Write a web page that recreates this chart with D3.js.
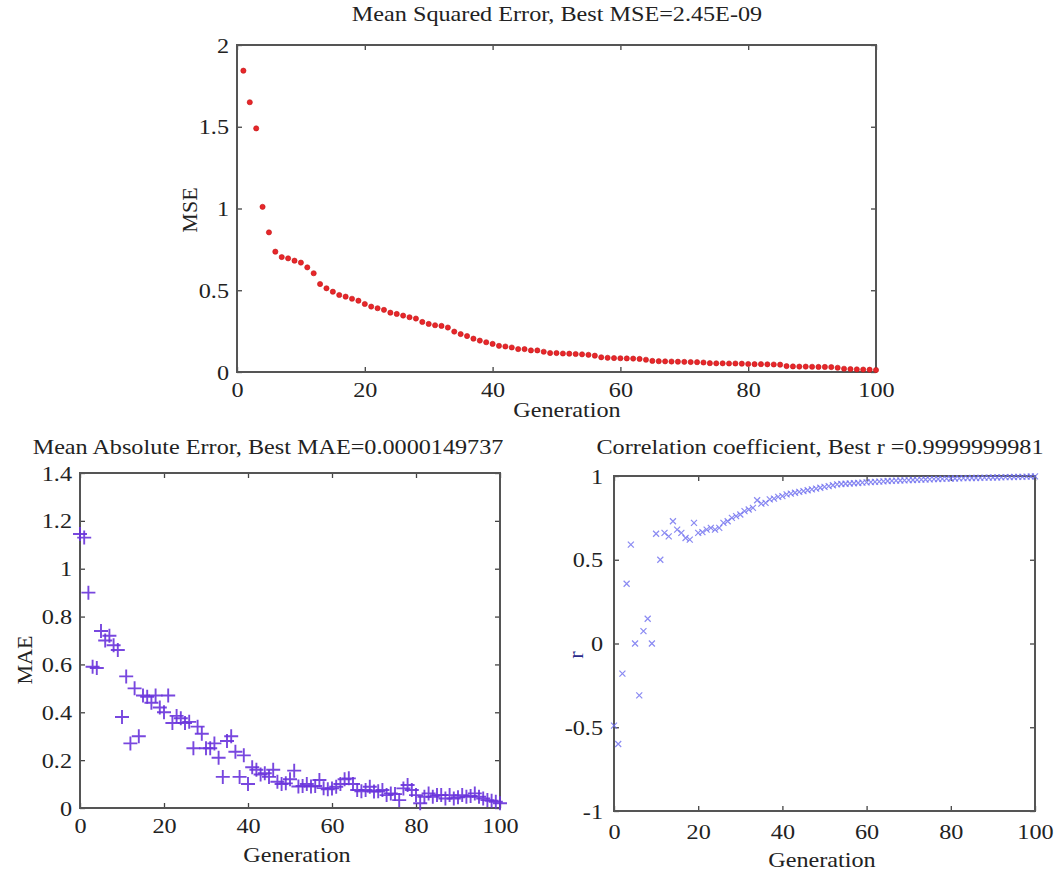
<!DOCTYPE html>
<html>
<head>
<meta charset="utf-8">
<script src="https://cdn.jsdelivr.net/npm/d3@7"></script>
<style>
  body { margin: 0; background: #fff; }
  svg text { font-family: "Liberation Serif", "DejaVu Serif", serif !important; fill: #222; }
</style>
</head>
<body>
<script>
// ---- data ----
var genTicks = [0, 20, 40, 60, 80, 100];
var mseTicks = [0, 0.5, 1, 1.5, 2];
var maeTicks = [0, 0.2, 0.4, 0.6, 0.8, 1, 1.2, 1.4];
var rTicks = [-1, -0.5, 0, 0.5, 1];

// MSE, generations 1..100
var mseValues = [
  1.843, 1.65, 1.49, 1.01, 0.854, 0.736, 0.703, 0.695, 0.681, 0.669,
  0.640, 0.604, 0.538, 0.512, 0.491, 0.471, 0.461, 0.448, 0.436, 0.416,
  0.400, 0.390, 0.380, 0.363, 0.355, 0.345, 0.335, 0.327, 0.306, 0.294,
  0.286, 0.282, 0.272, 0.247, 0.232, 0.220, 0.204, 0.192, 0.182, 0.172,
  0.160, 0.156, 0.150, 0.140, 0.140, 0.132, 0.132, 0.124, 0.116, 0.116,
  0.113, 0.112, 0.110, 0.108, 0.105, 0.100, 0.090, 0.087, 0.085, 0.084,
  0.083, 0.082, 0.080, 0.075, 0.068, 0.066, 0.065, 0.064, 0.063, 0.062,
  0.061, 0.060, 0.058, 0.054, 0.053, 0.053, 0.052, 0.052, 0.051, 0.049,
  0.048, 0.048, 0.047, 0.046, 0.045, 0.036, 0.034, 0.033, 0.033, 0.032,
  0.031, 0.031, 0.030, 0.026, 0.020, 0.018, 0.016, 0.015, 0.014, 0.012
];

// MAE, generations 0..100
var maeValues = [
  1.145, 1.13, 0.90, 0.59, 0.585, 0.74, 0.70, 0.72, 0.68, 0.66,
  0.38, 0.55, 0.27, 0.50, 0.30, 0.47, 0.465, 0.44, 0.47, 0.42,
  0.40, 0.47, 0.355, 0.385, 0.375, 0.355, 0.36, 0.25, 0.34, 0.31,
  0.25, 0.25, 0.27, 0.21, 0.13, 0.28, 0.30, 0.235, 0.13, 0.22,
  0.10, 0.17, 0.16, 0.14, 0.145, 0.13, 0.16, 0.11, 0.10, 0.103,
  0.12, 0.156, 0.09, 0.092, 0.10, 0.09, 0.092, 0.117, 0.083, 0.078,
  0.082, 0.089, 0.10, 0.12, 0.124, 0.10, 0.075, 0.07, 0.075, 0.089,
  0.069, 0.07, 0.075, 0.054, 0.061, 0.058, 0.033, 0.082, 0.096, 0.075,
  0.054, 0.02, 0.047, 0.061, 0.047, 0.054, 0.054, 0.04, 0.054, 0.04,
  0.045, 0.054, 0.047, 0.05, 0.061, 0.047, 0.04, 0.033, 0.03, 0.026,
  0.02
];

// correlation coefficient r, generations 0..100
var rValues = [
  -0.49, -0.60, -0.18, 0.357, 0.59, 0.0, -0.31, 0.074, 0.148, 0.0,
  0.655, 0.50, 0.66, 0.64, 0.73, 0.68, 0.66, 0.63, 0.62, 0.72,
  0.66, 0.665, 0.68, 0.69, 0.68, 0.69, 0.72, 0.73, 0.75, 0.76,
  0.77, 0.79, 0.80, 0.81, 0.855, 0.835, 0.84, 0.86, 0.865, 0.875,
  0.88, 0.89, 0.895, 0.90, 0.905, 0.91, 0.915, 0.92, 0.925, 0.93,
  0.935, 0.94, 0.945, 0.95, 0.952, 0.954, 0.955, 0.957, 0.958, 0.96,
  0.962, 0.963, 0.965, 0.966, 0.968, 0.97, 0.971, 0.972, 0.973, 0.974,
  0.975, 0.976, 0.977, 0.978, 0.979, 0.98, 0.981, 0.982, 0.983, 0.984,
  0.985, 0.985, 0.986, 0.987, 0.987, 0.988, 0.988, 0.989, 0.99, 0.99,
  0.991, 0.991, 0.992, 0.993, 0.993, 0.994, 0.995, 0.995, 0.996, 0.997,
  0.998
];

var width = 1058;
var height = 874;
var svg = d3.select('body').append('svg')
  .attr('width', width)
  .attr('height', height)
  .attr('font-family', '"Liberation Serif", serif');

svg.append('rect').attr('width', width).attr('height', height).attr('fill', '#fff');

var FS = 22;
var SX = 1.1; // lettering in the source is a bit wide

function wideText(x, y, str) {
  return svg.append('g').attr('transform', 'translate(' + x + ',' + y + ') scale(' + SX + ',1)')
    .append('text').attr('text-anchor', 'middle').attr('font-size', FS)
    .attr('font-family', '"Liberation Serif", serif').text(str);
}

function panel(p) {
  var x = d3.scaleLinear().domain([0, 100]).range([p.left, p.right]);
  var y = d3.scaleLinear().domain(p.yDomain).range([p.bottom, p.top]);
  var g = svg.append('g');
  var fmt = function(d) { return String(d); };

  var axes = [
    d3.axisBottom(x).tickValues(genTicks).tickSizeInner(-5).tickSizeOuter(0).tickPadding(p.xPad).tickFormat(fmt),
    d3.axisTop(x).tickValues(genTicks).tickSizeInner(-5).tickSizeOuter(0).tickFormat(''),
    d3.axisLeft(y).tickValues(p.yTicks).tickSizeInner(-5).tickSizeOuter(0).tickPadding(p.yPad).tickFormat(fmt),
    d3.axisRight(y).tickValues(p.yTicks).tickSizeInner(-5).tickSizeOuter(0).tickFormat('')
  ];
  var shifts = ['0,' + p.bottom, '0,' + p.top, p.left + ',0', p.right + ',0'];
  axes.forEach(function(ax, i) {
    var a = g.append('g').attr('transform', 'translate(' + shifts[i] + ')').call(ax)
      .attr('font-family', '"Liberation Serif", serif').attr('font-size', FS);
    a.select('.domain').remove();
    a.selectAll('line').attr('stroke', '#444').attr('stroke-width', 1.3);
    a.selectAll('text').attr('fill', '#222')
      .attr('transform', 'scale(' + SX + ',1)');
    if (i === 2) a.selectAll('text').attr('x', -p.yPad / SX);
  });

  g.append('rect')
    .attr('x', p.left).attr('y', p.top)
    .attr('width', p.right - p.left).attr('height', p.bottom - p.top)
    .attr('fill', 'none').attr('stroke', '#555').attr('stroke-width', 2);

  wideText(p.titleX, p.titleY, p.title);
  wideText(p.genX, p.genY, 'Generation');
  svg.append('text')
    .attr('transform', 'translate(' + p.labX + ',' + p.labY + ') rotate(-90)')
    .attr('text-anchor', 'middle').attr('font-size', FS)
    .attr('font-family', '"Liberation Serif", serif')
    .style('fill', p.labColor || '#222')
    .text(p.label);

  return { x: x, y: y, g: g };
}

// --- top: MSE ---
var mseP = panel({
  left: 237, right: 876, top: 45, bottom: 372,
  yDomain: [0, 2], yTicks: mseTicks, xPad: 9, yPad: 8,
  title: 'Mean Squared Error, Best MSE=2.45E-09', titleX: 557, titleY: 21,
  genX: 567, genY: 417, label: 'MSE', labX: 197, labY: 210
});
mseP.g.selectAll('circle.mse').data(mseValues).enter().append('circle')
  .attr('cx', function(d, i) { return mseP.x(i + 1); })
  .attr('cy', function(d) { return mseP.y(d); })
  .attr('r', 2.6)
  .attr('fill', '#e8262a')
  .attr('stroke', '#c01818')
  .attr('stroke-width', 0.6);

// --- bottom left: MAE ---
var maeP = panel({
  left: 80, right: 500, top: 473, bottom: 808,
  yDomain: [0, 1.4], yTicks: maeTicks, xPad: 9, yPad: 8,
  title: 'Mean Absolute Error, Best MAE=0.0000149737', titleX: 268, titleY: 454,
  genX: 297, genY: 862, label: 'MAE', labX: 32, labY: 660
});
maeP.g.selectAll('path.mae').data(maeValues).enter().append('path')
  .attr('transform', function(d, i) { return 'translate(' + maeP.x(i) + ',' + maeP.y(d) + ')'; })
  .attr('d', 'M-7,0H7M0,-7V7')
  .attr('stroke', '#6a34dc')
  .attr('stroke-width', 1.9)
  .attr('opacity', 0.9);

// --- bottom right: r ---
var rP = panel({
  left: 614, right: 1035, top: 476, bottom: 811,
  yDomain: [-1, 1], yTicks: rTicks, xPad: 12, yPad: 11,
  title: 'Correlation coefficient, Best r =0.9999999981', titleX: 820, titleY: 454,
  genX: 822, genY: 867, label: 'r', labX: 583, labY: 655, labColor: '#2a2a8a'
});
rP.g.selectAll('path.r').data(rValues).enter().append('path')
  .attr('transform', function(d, i) { return 'translate(' + rP.x(i) + ',' + rP.y(d) + ')'; })
  .attr('d', 'M-3,-3L3,3M-3,3L3,-3')
  .attr('stroke', '#6e6ef0')
  .attr('stroke-width', 1.2)
  .attr('opacity', 0.8);
</script>
</body>
</html>
